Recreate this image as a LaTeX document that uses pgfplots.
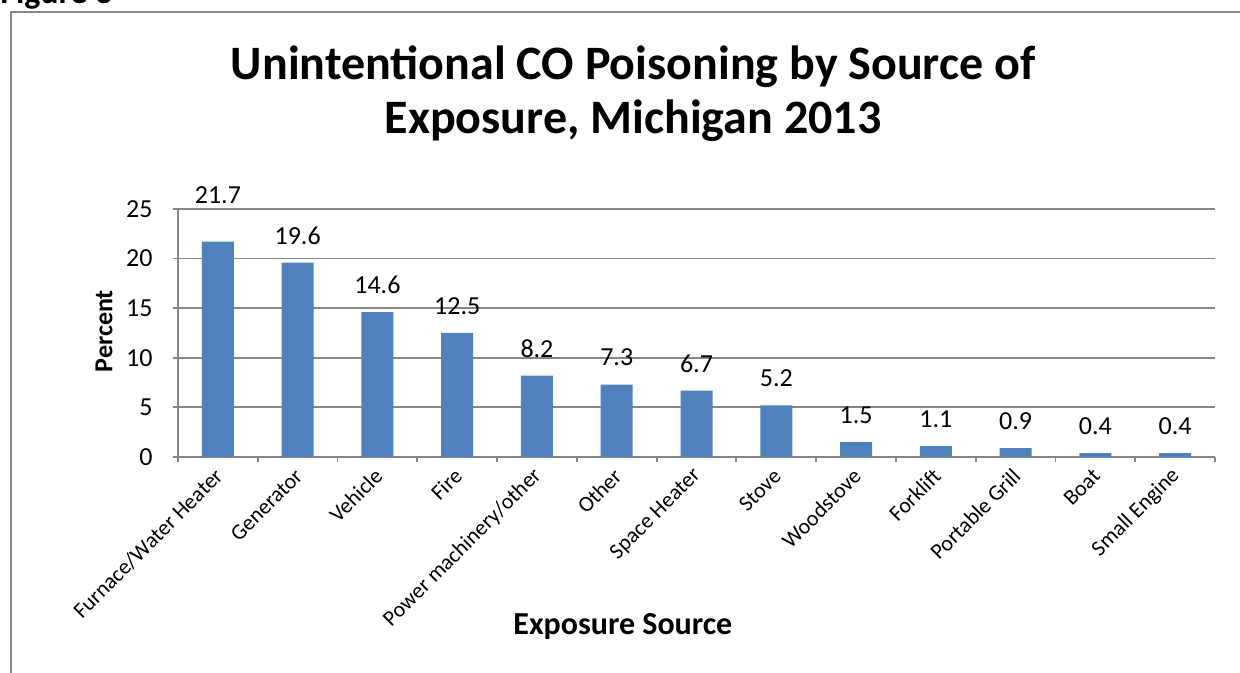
\documentclass[border=0pt]{standalone}
\usepackage{fontspec}
\setmainfont{Carlito}
\usepackage{pgfplots}
\pgfplotsset{compat=1.18}
\usepackage{pgfplotstable}
\definecolor{barblue}{HTML}{4F81BD}
\definecolor{gridgray}{HTML}{868686}

\pgfplotstableread{
x y ls
0 21.7 23.1
1 19.6 13.5
2 14.6 13.5
3 12.5 13.5
4 8.2 13.5
5 7.3 13.5
6 6.7 13.5
7 5.2 13.5
8 1.5 13.5
9 1.1 13.5
10 0.9 13.5
11 0.4 13.5
12 0.4 13.5
}\datatable

\begin{document}
\begin{tikzpicture}[x=1pt,y=1pt]
\path[use as bounding box] (0,0) rectangle (620,336.5);
\draw[gridgray, line width=1pt] (5.35,0) -- (5.35,330.35) -- (620,330.35);
\node[anchor=base west, inner sep=0pt, font=\bfseries\fontsize{17}{19}\selectfont] at (0,334.5) {Figure 3};
\node[anchor=base, inner sep=0pt, font=\bfseries\fontsize{24}{28}\selectfont] at (316.5,296.85) {Unintentional CO Poisoning by Source of};
\node[anchor=base, inner sep=0pt, font=\bfseries\fontsize{24}{28}\selectfont] at (316.5,269.85) {Exposure, Michigan 2013};
\begin{axis}[
  at={(89pt,108pt)}, anchor=south west,
  scale only axis, width=518.5pt, height=124pt,
  xmin=-0.5, xmax=12.5, ymin=0, ymax=25,
  ybar, bar width=16pt,
  axis x line*=bottom, axis y line*=left,
  axis line style={gridgray, line width=0.9pt, -},
  ytick={0,5,...,25},
  ymajorgrids, grid style={gridgray, line width=0.9pt},
  tick align=outside,
  major tick length=2.5pt, minor tick length=2.5pt,
  tick style={gridgray, line width=0.9pt},
  /pgf/number format/assume math mode=true,
  xtick={0,...,12},
  major x tick style={draw=none},
  minor xtick={-0.5,0.5,...,12.5},
  xticklabels={Furnace/Water Heater,Generator,Vehicle,Fire,Power machinery/other,Other,Space Heater,Stove,Woodstove,Forklift,Portable Grill,Boat,Small Engine},
  xticklabel style={xshift=0.66pt, yshift=-5.2pt, rotate=45, anchor=east, inner sep=0pt, font=\fontsize{11}{13}\selectfont},
  yticklabel style={anchor=east, inner sep=0pt, font=\fontsize{13}{15}\selectfont, xshift=-10pt},
  xlabel={Exposure Source},
  xlabel style={at={(axis description cs:0.429,-0.715)}, anchor=base, inner sep=0pt, font=\bfseries\fontsize{16}{18}\selectfont},
  ylabel={Percent},
  ylabel style={at={(axis description cs:-0.0714,0.508)}, anchor=center, inner sep=0pt, font=\bfseries\fontsize{13}{15}\selectfont},
  nodes near coords,
  visualization depends on={\thisrow{ls} \as \labshift},
  every node near coord/.append style={anchor=center, yshift=\labshift pt, font=\fontsize{13}{15}\selectfont, black},
  point meta=explicit symbolic,
]
\addplot[fill=barblue, draw=none] table[x=x, y=y, meta=y] {\datatable};
\end{axis}
\end{tikzpicture}
\end{document}
